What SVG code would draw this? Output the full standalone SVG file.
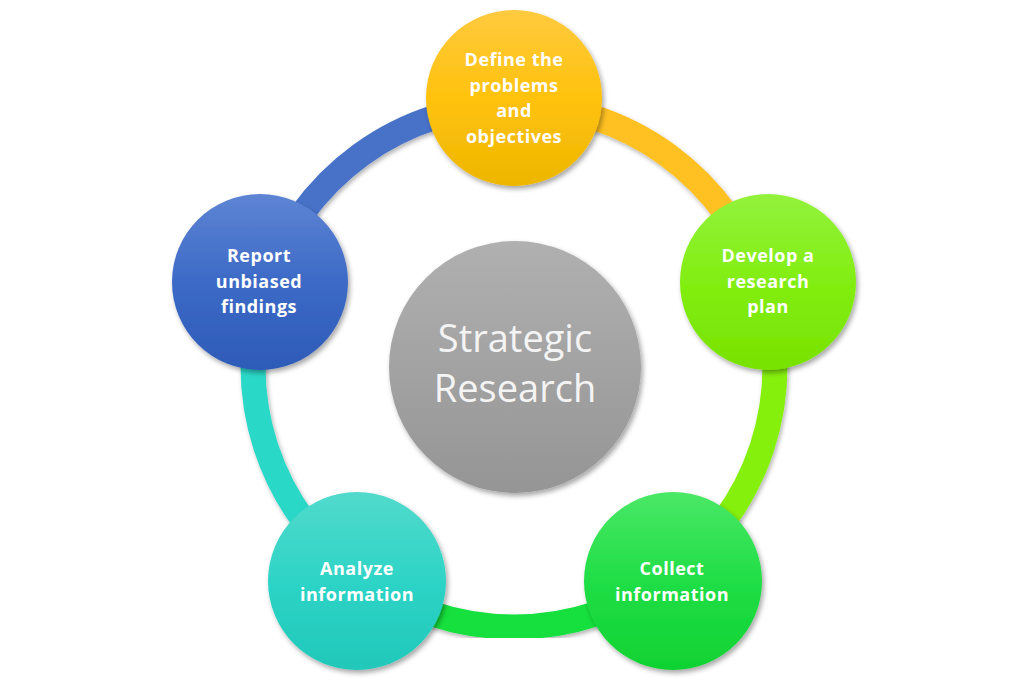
<svg xmlns="http://www.w3.org/2000/svg" width="1024" height="684" viewBox="0 0 1024 684">
  <defs>
    <filter id="sh" x="-20%" y="-20%" width="140%" height="140%">
      <feDropShadow dx="2" dy="3" stdDeviation="2.5" flood-color="#000" flood-opacity="0.35"/>
    </filter>
    <filter id="ash" x="-20%" y="-20%" width="140%" height="140%">
      <feDropShadow dx="1.5" dy="2.5" stdDeviation="2" flood-color="#000" flood-opacity="0.3"/>
    </filter>
    <linearGradient id="gTop" x1="0" y1="0" x2="0" y2="1">
      <stop offset="0" stop-color="#FFCA3E"/>
      <stop offset="0.5" stop-color="#FFC20E"/>
      <stop offset="1" stop-color="#EDB600"/>
    </linearGradient>
    <linearGradient id="gRight" x1="0" y1="0" x2="0" y2="1">
      <stop offset="0" stop-color="#92F23C"/>
      <stop offset="0.5" stop-color="#82EE12"/>
      <stop offset="1" stop-color="#78E200"/>
    </linearGradient>
    <linearGradient id="gBR" x1="0" y1="0" x2="0" y2="1">
      <stop offset="0" stop-color="#4AE866"/>
      <stop offset="0.5" stop-color="#20DE46"/>
      <stop offset="1" stop-color="#10D232"/>
    </linearGradient>
    <linearGradient id="gBL" x1="0" y1="0" x2="0" y2="1">
      <stop offset="0" stop-color="#52DACC"/>
      <stop offset="0.5" stop-color="#2DD4C6"/>
      <stop offset="1" stop-color="#20C8BA"/>
    </linearGradient>
    <linearGradient id="gLeft" x1="0" y1="0" x2="0" y2="1">
      <stop offset="0" stop-color="#5E84D4"/>
      <stop offset="0.5" stop-color="#3C6AC6"/>
      <stop offset="1" stop-color="#2E5AB8"/>
    </linearGradient>
    <linearGradient id="gCenter" x1="0" y1="0" x2="0" y2="1">
      <stop offset="0" stop-color="#B0B0B0"/>
      <stop offset="1" stop-color="#959595"/>
    </linearGradient>
  </defs>
  <style>
    .arc { fill: none; stroke-width: 25; filter: url(#ash); }
    .node { filter: url(#sh); }
    .lbl { font-family: "Open Sans", "Noto Sans", sans-serif; font-weight: 700; font-size: 18px; letter-spacing: 0.5px; fill: #FFFFFF; text-anchor: middle; }
    .big { font-family: "Open Sans", "Noto Sans", sans-serif; font-weight: 400; font-size: 38px; fill: #F4F4F4; text-anchor: middle; }
  </style>
  <rect width="1024" height="684" fill="#FFFFFF"/>
  <g id="connectors">
    <path class="arc" stroke="#FFC124" d="M 514 105 A 261 261 0 0 1 762.2 285.3"/>
    <path class="arc" stroke="#86F00C" d="M 762.2 285.3 A 261 261 0 0 1 667.4 577.2"/>
    <path class="arc" stroke="#12E03C" d="M 667.4 577.2 A 261 261 0 0 1 360.6 577.2"/>
    <path class="arc" stroke="#2CD8C8" d="M 360.6 577.2 A 261 261 0 0 1 265.8 285.3"/>
    <path class="arc" stroke="#4672C8" d="M 265.8 285.3 A 261 261 0 0 1 514 105"/>
  </g>
  <g id="center">
    <circle class="node" cx="515" cy="367" r="126" fill="url(#gCenter)"/>
    <text class="big" x="515" y="352">Strategic</text>
    <text class="big" x="515" y="402">Research</text>
  </g>
  <g id="node-define">
    <circle class="node" cx="514" cy="98" r="88" fill="url(#gTop)"/>
    <text class="lbl" x="514" y="66">Define the</text>
    <text class="lbl" x="514" y="91.5">problems</text>
    <text class="lbl" x="514" y="117">and</text>
    <text class="lbl" x="514" y="142.5">objectives</text>
  </g>
  <g id="node-develop">
    <circle class="node" cx="768" cy="282" r="88" fill="url(#gRight)"/>
    <text class="lbl" x="768" y="262">Develop a</text>
    <text class="lbl" x="768" y="287.5">research</text>
    <text class="lbl" x="768" y="313">plan</text>
  </g>
  <g id="node-collect">
    <circle class="node" cx="673" cy="581" r="89" fill="url(#gBR)"/>
    <text class="lbl" x="672" y="575">Collect</text>
    <text class="lbl" x="672" y="600.5">information</text>
  </g>
  <g id="node-analyze">
    <circle class="node" cx="357" cy="581" r="89" fill="url(#gBL)"/>
    <text class="lbl" x="357" y="575">Analyze</text>
    <text class="lbl" x="357" y="600.5">information</text>
  </g>
  <g id="node-report">
    <circle class="node" cx="260" cy="282" r="88" fill="url(#gLeft)"/>
    <text class="lbl" x="259" y="262">Report</text>
    <text class="lbl" x="259" y="287.5">unbiased</text>
    <text class="lbl" x="259" y="313">findings</text>
  </g>
</svg>
